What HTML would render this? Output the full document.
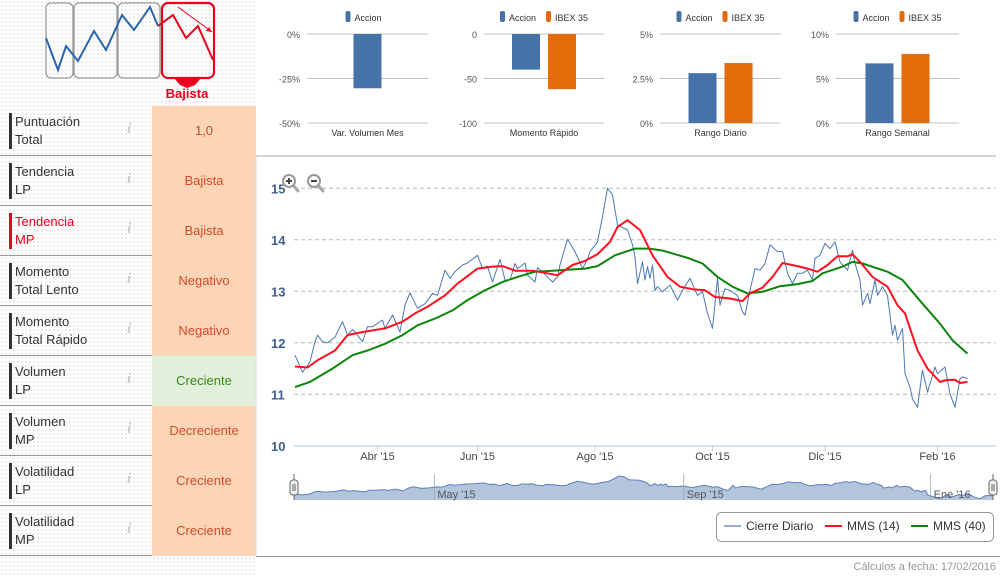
<!DOCTYPE html>
<html><head><meta charset="utf-8">
<style>
html,body{margin:0;padding:0;background:#fff;width:1000px;height:577px;overflow:hidden;font-family:"Liberation Sans",sans-serif;}
#left{position:absolute;left:0;top:0;width:256px;height:577px;background-image:radial-gradient(#e6e6e6 0.8px,transparent 0.9px);background-size:4px 4px;}
.row{position:absolute;left:0;width:256px;height:50px;}
.row .sep{position:absolute;left:0;width:152px;top:49px;height:1px;background:#999;}
.row .bar{position:absolute;left:9px;top:7px;width:3px;height:36px;background:#333;}
.row .lbl{position:absolute;left:15px;top:7px;font-size:13px;line-height:18px;color:#333;}
.row .info{position:absolute;left:127px;top:15px;font-family:"Liberation Serif",serif;font-style:italic;font-weight:bold;font-size:15px;color:#ccc;}
.row .val{position:absolute;left:152px;top:0;width:104px;height:50px;background:#fbd5b5;color:#d34a2c;font-size:13px;line-height:50px;text-align:center;}
.row .val.green{background:#e2efda;color:#3b8a16;}
</style></head><body>
<div id="left">
<svg width="256" height="106" style="position:absolute;left:0;top:0">
<rect x="46" y="3" width="27" height="75" rx="5" fill="none" stroke="#999" stroke-width="1.3"/>
<rect x="74" y="3" width="43" height="75" rx="5" fill="none" stroke="#999" stroke-width="1.3"/>
<rect x="118" y="3" width="42" height="75" rx="5" fill="none" stroke="#999" stroke-width="1.3"/>
<polyline points="46,38 58,70 66,46 78,61 94,31 106,50 122,15 134,30 150,7 158,26" fill="none" stroke="#2a64ad" stroke-width="2"/>
<polyline points="158,26 173,15 186,38 198,26 213,60" fill="none" stroke="#e8001c" stroke-width="2"/>
<line x1="178" y1="7" x2="212" y2="32" stroke="#e8001c" stroke-width="1"/>
<polygon points="212,32 206,31 209,27" fill="#e8001c"/>
<rect x="162" y="3" width="52" height="75" rx="6" fill="none" stroke="#e8001c" stroke-width="2.2"/>
<polygon points="174,78 201,78 195,85 187,88 180,85" fill="#e8001c"/>
<text x="187" y="98" text-anchor="middle" font-size="13" font-weight="bold" fill="#e8001c">Bajista</text>
</svg>
<div class="row" style="top:106px"><div class="bar"></div><div class="lbl">Puntuación<br>Total</div><div class="info">i</div><div class="val" style="color:#c4492c">1,0</div><div class="sep"></div></div>
<div class="row" style="top:156px"><div class="bar"></div><div class="lbl">Tendencia<br>LP</div><div class="info">i</div><div class="val">Bajista</div><div class="sep"></div></div>
<div class="row" style="top:206px"><div class="bar" style="background:#e8001c"></div><div class="lbl" style="color:#e8001c">Tendencia<br>MP</div><div class="info">i</div><div class="val">Bajista</div><div class="sep"></div></div>
<div class="row" style="top:256px"><div class="bar"></div><div class="lbl">Momento<br>Total Lento</div><div class="info">i</div><div class="val">Negativo</div><div class="sep"></div></div>
<div class="row" style="top:306px"><div class="bar"></div><div class="lbl">Momento<br>Total Rápido</div><div class="info">i</div><div class="val">Negativo</div><div class="sep"></div></div>
<div class="row" style="top:356px"><div class="bar"></div><div class="lbl">Volumen<br>LP</div><div class="info">i</div><div class="val green">Creciente</div><div class="sep"></div></div>
<div class="row" style="top:406px"><div class="bar"></div><div class="lbl">Volumen<br>MP</div><div class="info">i</div><div class="val">Decreciente</div><div class="sep"></div></div>
<div class="row" style="top:456px"><div class="bar"></div><div class="lbl">Volatilidad<br>LP</div><div class="info">i</div><div class="val">Creciente</div><div class="sep"></div></div>
<div class="row" style="top:506px"><div class="bar"></div><div class="lbl">Volatilidad<br>MP</div><div class="info">i</div><div class="val">Creciente</div><div class="sep"></div></div>
</div>
<svg id="main" width="1000" height="577" style="position:absolute;left:0;top:0" font-family="Liberation Sans, sans-serif"></svg>
<script>
// ---- mini bar charts data ----
const miniTitles = ["Var. Volumen Mes","Momento Rápido","Rango Diario","Rango Semanal"];
const miniTicks = [["0%","-25%","-50%"],["0","-50","-100"],["5%","2.5%","0%"],["10%","5%","0%"]];
const miniMax = [0,0,5,10];
const miniMin = [-50,-100,0,0];
const miniAccion = [-30.5,-40,2.8,6.7];
const miniIbex = [null,-62,3.37,7.75];
// ---- main chart data (t = trading-day index) ----
const closeT = [0,3,6,8,9,11,13,16,19,21,23,25,27,29,31,35,36,39,42,44,46,49,52,55,57,60,62,64,67,69,73,75,77,79,82,84,86,88,89,92,93,96,97,100,103,105,106,109,112,115,117,118,121,123,125,127,129,133,135,136,137,139,140,141,142,143,144,145,147,150,153,155,158,161,163,165,167,168,169,170,172,174,177,179,180,182,184,186,188,190,193,195,197,199,201,203,205,207,208,210,212,214,216,218,221,223,224,226,227,229,230,232,233,235,237,239,240,241,243,244,246,247,249,251,253,256,257,260,262,264,266,267,269];
const closeV = [11.76,11.43,11.63,12.02,12.15,12.02,12.0,12.11,12.41,12.15,12.26,12.15,12.02,12.31,12.31,12.44,12.28,12.54,12.21,12.73,12.97,12.67,12.76,12.96,12.92,13.41,13.25,13.38,13.51,13.55,13.70,13.44,13.49,13.18,13.62,13.22,13.22,13.54,13.44,13.55,13.31,13.18,13.46,13.33,13.18,13.28,13.51,14.01,13.77,13.44,13.62,13.77,13.96,14.45,15.0,14.87,14.29,14.19,13.90,13.67,13.15,13.57,13.22,13.48,13.25,13.51,13.02,13.09,12.99,13.12,12.83,13.02,13.25,12.92,12.99,12.57,12.28,12.76,13.25,12.73,13.05,13.02,12.92,12.60,12.54,13.02,13.44,13.41,13.54,13.90,13.77,13.77,13.35,13.15,13.35,13.35,13.41,13.22,13.64,13.70,13.93,13.83,13.96,13.57,13.41,13.80,13.54,13.22,12.73,12.96,12.76,13.22,12.92,13.09,12.92,12.15,12.34,12.05,12.28,11.40,11.14,10.91,10.75,11.47,11.04,11.53,11.40,11.53,11.01,10.75,11.30,11.34,11.30];
const mms14T = [0,5,9,16,21,25,31,36,43,48,53,60,65,73,79,83,88,95,100,105,111,116,121,126,129,133,138,143,149,154,159,164,168,174,179,182,187,191,195,201,205,209,213,217,221,223,226,231,237,241,244,249,253,258,261,264,266,269];
const mms14V = [11.54,11.52,11.66,11.85,12.15,12.19,12.24,12.28,12.41,12.57,12.70,12.92,13.15,13.44,13.48,13.49,13.40,13.40,13.36,13.31,13.51,13.59,13.72,13.96,14.25,14.38,14.19,13.70,13.28,13.09,13.04,13.02,12.89,12.86,12.81,12.96,13.07,13.28,13.55,13.49,13.44,13.38,13.51,13.68,13.68,13.72,13.57,13.28,13.09,12.73,12.57,11.85,11.50,11.24,11.28,11.28,11.22,11.24];
const mms40T = [0,6,15,23,29,36,43,49,56,63,69,76,83,89,96,103,109,116,121,128,136,142,147,157,163,169,175,181,187,194,201,207,211,219,223,227,237,243,251,258,263,269];
const mms40V = [11.14,11.24,11.50,11.76,11.85,11.98,12.15,12.34,12.47,12.63,12.83,13.02,13.18,13.28,13.38,13.40,13.42,13.44,13.49,13.70,13.83,13.83,13.79,13.65,13.54,13.28,13.09,12.96,12.99,13.10,13.14,13.20,13.35,13.48,13.57,13.54,13.38,13.22,12.76,12.37,12.05,11.79];
const yTicks = [10,11,12,13,14,15];
const monthLabels = ["Abr '15","Jun '15","Ago '15","Oct '15","Dic '15","Feb '16"];
const monthT = [33,73,120,167,212,257];
const navLabels = ["May '15","Sep '15","Ene '16"];
const navT = [54,150,245];

const NS="http://www.w3.org/2000/svg";
const svg=document.getElementById('main');
function el(tag,attrs,parent){const e=document.createElementNS(NS,tag);for(const k in attrs)e.setAttribute(k,attrs[k]);(parent||svg).appendChild(e);return e;}
function txt(s,attrs,parent){const e=el('text',attrs,parent);e.textContent=s;return e;}

// frame lines
el('line',{x1:256,y1:156,x2:996,y2:156,stroke:'#aaa','stroke-width':1});
el('line',{x1:256,y1:156,x2:256,y2:557,stroke:'#ddd','stroke-width':1});
el('line',{x1:256,y1:556.5,x2:1000,y2:556.5,stroke:'#999','stroke-width':1});
const foot=txt('Cálculos a fecha: 17/02/2016',{x:996,y:570,'text-anchor':'end','font-size':11,fill:'#999'});



// mini charts
const miniX0=[307,484,660,836], miniW=[121,120,121,123];
const bTop=34,bBot=123;
for(let c=0;c<4;c++){
  const g=el('g',{});
  
  
  const ys=v=>bTop+(miniMax[c]-v)/(miniMax[c]-miniMin[c])*(bBot-bTop);
  for(let i=0;i<3;i++){
    const y=bTop+i*(bBot-bTop)/2;
    el('line',{x1:miniX0[c],y1:y,x2:miniX0[c]+miniW[c],y2:y,stroke:'#c0c0c0','stroke-width':1},g);
    txt(miniTicks[c][i],{x:miniX0[c]-7,y:y+4,'text-anchor':'end','font-size':9,fill:'#555'},g);
  }
  const cx=miniX0[c]+miniW[c]/2;
  txt(miniTitles[c],{x:cx,y:136,'text-anchor':'middle','font-size':9,fill:'#333'},g);
  const two=miniIbex[c]!==null;
  const bw=28;
  const bx= two? [cx-bw-4, cx+4] : [cx-bw/2];
  const vals= two? [miniAccion[c],miniIbex[c]] : [miniAccion[c]];
  const cols=['#4572a7','#e36b0a'];
  vals.forEach((v,i)=>{
    const y0=ys(0), y1=ys(v);
    const r=el('rect',{x:bx[i],y:Math.min(y0,y1),width:bw,height:Math.abs(y1-y0),fill:cols[i]},g);
    
    
  });
  const lx= two? cx-44 : cx-22;
  el('rect',{x:lx,y:11,width:5,height:11,rx:2,fill:'#4572a7'},g);
  txt('Accion',{x:lx+9,y:21,'font-size':9,fill:'#333'},g);
  if(two){el('rect',{x:lx+46,y:11,width:5,height:11,rx:2,fill:'#e36b0a'},g);txt('IBEX 35',{x:lx+55,y:21,'font-size':9,fill:'#333'},g);}
}

// main chart scales
const X0=295,DX=2.5;
const xs=t=>X0+t*DX;
const ys=v=>188.3+(15-v)*51.5;
const gm=el('g',{});


yTicks.forEach(v=>{
  if(v>10) el('line',{x1:294,y1:ys(v),x2:996,y2:ys(v),stroke:'#bbb','stroke-dasharray':'4,3','stroke-width':1},gm);
  const t=txt(String(v),{x:271,y:ys(v)+5,'font-size':13,fill:'#3f5f8f','font-weight':'bold'},gm);
  
  
});
el('line',{x1:294,y1:446,x2:996,y2:446,stroke:'#c0d0e0','stroke-width':1.2},gm);
monthT.forEach((t,i)=>{
  el('line',{x1:xs(t),y1:446,x2:xs(t),y2:451,stroke:'#c0d0e0'},gm);
  const l=txt(monthLabels[i],{x:xs(t),y:460,'text-anchor':'middle','font-size':11,fill:'#444'},gm);
  
  
});
function line(T,V,color,w,name){
  const p=el('polyline',{points:T.map((t,i)=>xs(t).toFixed(1)+','+ys(V[i]).toFixed(1)).join(' '),fill:'none',stroke:color,'stroke-width':w,'stroke-linejoin':'round'},gm);
  
  
}
line(closeT,closeV,'#4a78b5',1,'close-line');
line(mms40T,mms40V,'#0a850a',2,'mms40-line');
line(mms14T,mms14V,'#ff1020',2,'mms14-line');

// zoom buttons
function zoomIcon(x,plus,name){
  const g=el('g',{});
  
  
  el('line',{x1:x+4,y1:185,x2:x+9,y2:191,stroke:'#aaa','stroke-width':3,'stroke-linecap':'round'},g);
  el('circle',{cx:x,cy:181,r:6,fill:'#fff',stroke:'#999','stroke-width':2},g);
  el('line',{x1:x-3,y1:181,x2:x+3,y2:181,stroke:'#444','stroke-width':2},g);
  if(plus) el('line',{x1:x,y1:178,x2:x,y2:184,stroke:'#444','stroke-width':2},g);
}
zoomIcon(289,true,'zoom-in-button');
zoomIcon(314,false,'zoom-out-button');

// navigator
const gn=el('g',{});


const NX0=294,NX1=993,tMax=269;
const nx=t=>NX0+t/tMax*(NX1-NX0);
const ny=v=>476+(15-v)/(15-10.5)*24;
let pts=closeT.map((t,i)=>nx(t).toFixed(1)+','+ny(closeV[i]).toFixed(1));
el('polygon',{points:NX0+',500 '+pts.join(' ')+' '+NX1+',500',fill:'#b3c5dd'},gn);
el('polyline',{points:pts.join(' '),fill:'none',stroke:'#5d7fb8','stroke-width':1},gn);
navT.forEach((t,i)=>{
  el('line',{x1:nx(t),y1:474,x2:nx(t),y2:500,stroke:'#9aa','stroke-width':0.8},gn);
  txt(navLabels[i],{x:nx(t)+3,y:498,'font-size':11,fill:'#555'},gn);
});
el('line',{x1:294,y1:474,x2:294,y2:500,stroke:'#666'},gn);
el('line',{x1:993,y1:474,x2:993,y2:500,stroke:'#666'},gn);
[294,993].forEach(x=>{
  const h=el('rect',{x:x-4,y:480,width:8,height:15,rx:3,fill:'#f2f2f2',stroke:'#666'},gn);
  
  
  el('line',{x1:x-1,y1:484,x2:x-1,y2:491,stroke:'#666'},gn);
  el('line',{x1:x+1,y1:484,x2:x+1,y2:491,stroke:'#666'},gn);
});

// legend
const lg=el('g',{});


el('rect',{x:716.5,y:512.5,width:277,height:29,rx:5,fill:'#fff',stroke:'#999'},lg);
const items=[['Cierre Diario','#9ab0d2',724],['MMS (14)','#ff1020',825],['MMS (40)','#0a850a',911]];
items.forEach(it=>{
  const g=el('g',{},lg);
  
  
  el('line',{x1:it[2],y1:526,x2:it[2]+17,y2:526,stroke:it[1],'stroke-width':2},g);
  txt(it[0],{x:it[2]+22,y:530,'font-size':12,fill:'#333'},g);
});
</script>
</body></html>
